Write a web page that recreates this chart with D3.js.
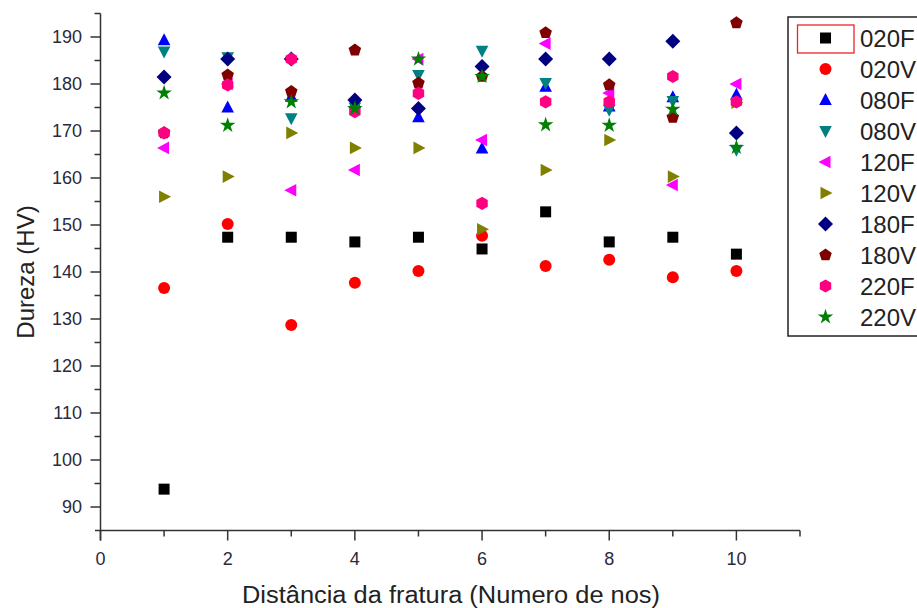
<!DOCTYPE html>
<html>
<head>
<meta charset="utf-8">
<script src="https://cdn.jsdelivr.net/npm/d3@7"></script>
<style>
body{margin:0;background:#fff;}
svg{display:block;font-family:"Liberation Sans",Arial,sans-serif;}
</style>
</head>
<body>
<svg id="chart" width="917" height="608"></svg>
<script>
const xValues = [1,2,3,4,5,6,7,8,9,10];
const seriesNames = ["020F","020V","080F","080V","120F","120V","180F","180V","220F","220V"];
const s020F = [93.8,147.4,147.4,146.4,147.4,144.9,152.8,146.4,147.4,143.8];
const s020V = [136.6,150.2,128.7,137.7,140.2,147.7,141.3,142.6,138.9,140.2];
const s080F = [189.3,175.0,177.3,175.9,172.9,166.3,179.4,175.2,177.2,177.7];
const s080V = [186.9,185.7,172.7,175.0,181.9,187.1,180.2,174.5,176.4,166.0];
const s120F = [166.4,180.0,157.4,161.7,185.3,168.1,188.6,178.1,158.5,180.0];
const s120V = [156.0,160.3,169.6,166.4,166.4,149.1,161.7,168.1,160.3,176.0];
const s180F = [181.5,185.3,185.3,176.6,174.8,183.7,185.3,185.3,189.1,169.6];
const s180V = [169.6,181.9,178.4,187.2,180.2,181.6,190.9,179.8,172.9,193.0];
const s220F = [169.6,179.8,185.3,174.1,178.0,154.6,176.2,176.2,181.6,176.2];
const s220V = [178.1,171.2,176.2,174.8,185.3,181.6,171.3,171.2,174.6,166.5];
const seriesValues = [s020F,s020V,s080F,s080V,s120F,s120V,s180F,s180V,s220F,s220V];
const colors = ["#000000","#FF0000","#0000FF","#008080","#FF00FF","#808000","#000080","#800000","#FF0080","#008000"];
const shapes = ["square","circle","up","down","left","right","diamond","pentagon","hexagon","star"];
const yTicks = [90,100,110,120,130,140,150,160,170,180,190];
const xTicks = [0,2,4,6,8,10];
const xTitle = "Distância da fratura (Numero de nos)";
const yTitle = "Dureza (HV)";

const svg = d3.select("#chart");
const x = d3.scaleLinear().domain([0,11]).range([100.5,800]);
const y = d3.scaleLinear().domain([85,195]).range([530.5,13.5]);

function poly(pts){ return "M" + pts.map(p=>p[0].toFixed(2)+","+p[1].toFixed(2)).join("L") + "Z"; }
function regular(n, r, rot){
  const pts=[];
  for(let i=0;i<n;i++){const a=rot+i*2*Math.PI/n; pts.push([r*Math.cos(a), r*Math.sin(a)]);}
  return pts;
}
function shapePath(s){
  switch(s){
    case "square": return poly([[-5.5,-5.5],[5.5,-5.5],[5.5,5.5],[-5.5,5.5]]);
    case "circle": return d3.symbol(d3.symbolCircle, Math.PI*6*6)();
    case "up": return poly([[0,-7],[6.3,5],[-6.3,5]]);
    case "down": return poly([[0,7],[6.3,-5],[-6.3,-5]]);
    case "left": return poly([[-7,0],[5,-6.3],[5,6.3]]);
    case "right": return poly([[7,0],[-5,-6.3],[-5,6.3]]);
    case "diamond": return poly([[0,-7.5],[7.5,0],[0,7.5],[-7.5,0]]);
    case "pentagon": return poly(regular(5,6.6,-Math.PI/2));
    case "hexagon": return poly(regular(6,6.6,-Math.PI/2));
    case "star": return d3.symbol(d3.symbolStar, 75)();
  }
}

const axisColor = "#333";
const labelColor = "#2a2a40";
// Y axis
const yAxis = svg.append("g").attr("transform","translate(100.5,0)");
yAxis.append("line").attr("x1",0).attr("x2",0).attr("y1",y(195)).attr("y2",y(85)+10).attr("stroke",axisColor).attr("stroke-width",1.5);
const yMinor = d3.range(95,200,10);
yAxis.selectAll(".ymin").data(yMinor).enter().append("line")
  .attr("x1",-6).attr("x2",0).attr("y1",d=>y(d)).attr("y2",d=>y(d)).attr("stroke",axisColor).attr("stroke-width",1.5);
yAxis.selectAll(".ymaj").data(yTicks).enter().append("line")
  .attr("x1",-10).attr("x2",0).attr("y1",d=>y(d)).attr("y2",d=>y(d)).attr("stroke",axisColor).attr("stroke-width",1.5);
yAxis.selectAll(".ylab").data(yTicks).enter().append("text")
  .attr("x",-18.5).attr("y",d=>y(d)).attr("dy","0.36em").attr("text-anchor","end")
  .attr("font-size",18).attr("fill",labelColor).text(d=>d);

// X axis
const xAxis = svg.append("g").attr("transform","translate(0,"+y(85)+")");
xAxis.append("line").attr("x1",95).attr("x2",x(11)).attr("y1",0).attr("y2",0).attr("stroke",axisColor).attr("stroke-width",1.5);
const xMinor = d3.range(1,12,2);
xAxis.selectAll(".xmin").data(xMinor).enter().append("line")
  .attr("x1",d=>x(d)).attr("x2",d=>x(d)).attr("y1",0).attr("y2",6).attr("stroke",axisColor).attr("stroke-width",1.5);
xAxis.selectAll(".xmaj").data(xTicks).enter().append("line")
  .attr("x1",d=>x(d)).attr("x2",d=>x(d)).attr("y1",0).attr("y2",10).attr("stroke",axisColor).attr("stroke-width",1.5);
xAxis.selectAll(".xlab").data(xTicks).enter().append("text")
  .attr("x",d=>x(d)).attr("y",34).attr("text-anchor","middle")
  .attr("font-size",18).attr("fill",labelColor).text(d=>d);

// Titles
svg.append("text").attr("x",242).attr("y",603)
  .attr("font-size",23).attr("textLength",418).attr("lengthAdjust","spacingAndGlyphs")
  .attr("fill","#222").text(xTitle);
svg.append("text").attr("transform","translate(34,272) rotate(-90)").attr("text-anchor","middle")
  .attr("font-size",24).attr("fill","#222").text(yTitle);

// Points
seriesValues.forEach((vals,i)=>{
  const g = svg.append("g");
  g.selectAll("path").data(vals.map((v,j)=>({x:xValues[j],y:v}))).enter().append("path")
    .attr("d",shapePath(shapes[i]))
    .attr("transform",d=>"translate("+x(d.x)+","+y(d.y)+")")
    .attr("fill",colors[i]);
});

// Legend
const leg = svg.append("g");
leg.append("rect").attr("x",788).attr("y",17).attr("width",200).attr("height",319)
  .attr("fill","#fff").attr("stroke","#222").attr("stroke-width",1.5);
leg.append("rect").attr("x",797.5).attr("y",25).attr("width",56.5).attr("height",28)
  .attr("fill","none").attr("stroke","#e8262a").attr("stroke-width",1.3);
seriesNames.forEach((n,i)=>{
  const cy = 38 + i*31;
  leg.append("path").attr("d",shapePath(shapes[i])).attr("transform","translate(825.5,"+cy+")").attr("fill",colors[i]);
  leg.append("text").attr("x",860).attr("y",cy).attr("dy","0.36em").attr("font-size",24).attr("fill","#222").text(n);
});
</script>
</body>
</html>
